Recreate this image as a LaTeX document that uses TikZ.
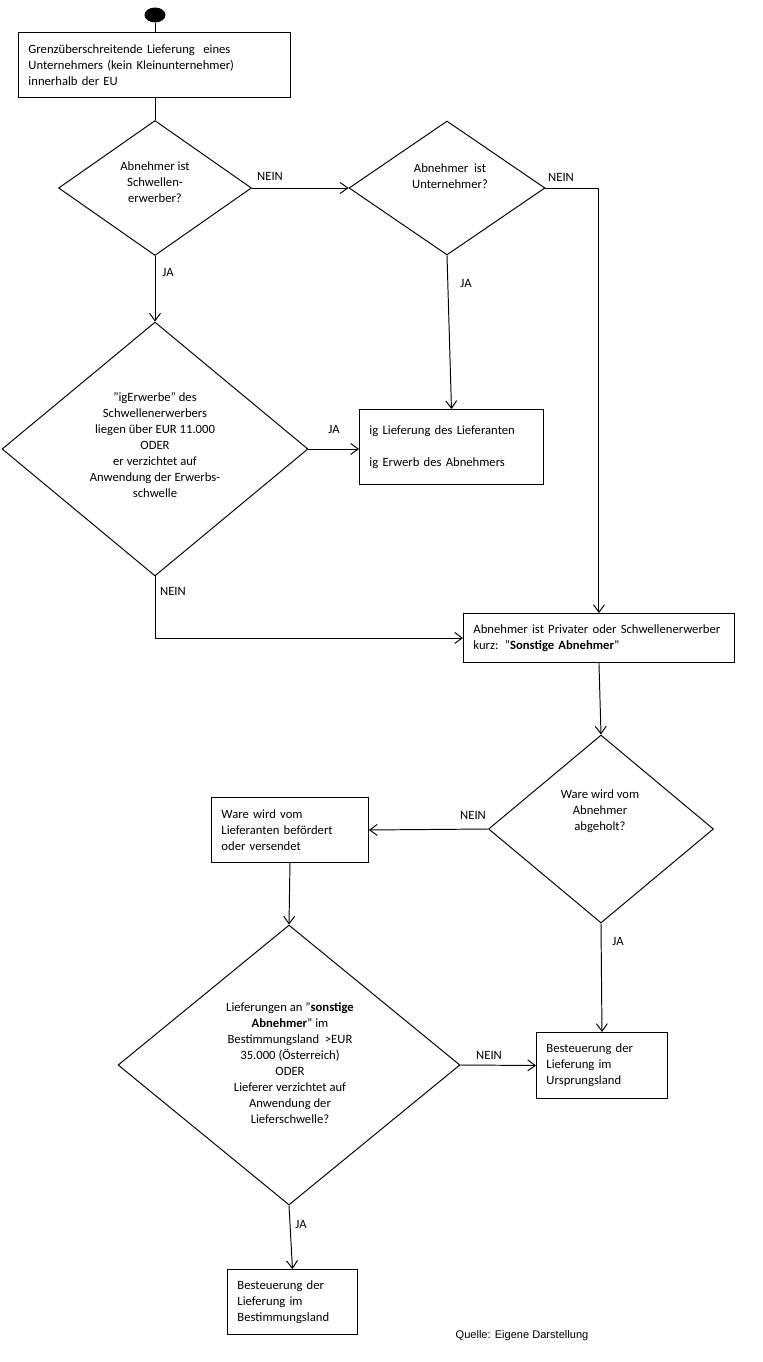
\documentclass[tikz,border=0pt]{standalone}
\usepackage{fontspec}
\setmainfont{Carlito}
\newfontfamily\quellefont{Liberation Sans}
\usetikzlibrary{shapes.geometric,arrows.meta}

\newcommand{\gq}{\char34\relax}

\tikzset{
  txt/.style={font=\fontsize{7.2}{9.1}\selectfont},
  box/.style={draw, txt, align=left, anchor=north west, inner xsep=0.2cm, inner ysep=0pt},
  raute/.style={draw, diamond, inner sep=0pt},
  rautetext/.style={txt, align=center, inner sep=0pt},
  lbl/.style={txt, inner sep=0pt},
}

\begin{document}
\begin{tikzpicture}[x=0.02cm, y=-0.02cm, line width=0.55pt,
  >={Straight Barb[length=1.5mm,width=2.2mm]}]
  \useasboundingbox (0,0) rectangle (763,1362);

  % Start
  \node[ellipse, fill=black, minimum width=0.42cm, minimum height=0.3cm, inner sep=0pt] (start) at (155,15) {};

  % Boxes
  \node[box, text width=5.04cm, minimum height=1.3cm] (b1) at (18,32)
    {Grenzüberschreitende Lieferung~ eines\\Unternehmers (kein Kleinunternehmer)\\innerhalb der EU};
  \node[box, text width=3.28cm, minimum height=1.5cm] (b2) at (359,409)
    {ig Lieferung des Lieferanten\\\mbox{}\\ig Erwerb des Abnehmers};
  \node[box, text width=5.02cm, minimum height=0.98cm] (b3) at (463,613)
    {Abnehmer ist Privater oder Schwellenerwerber\\kurz: \gq\textbf{Sonstige Abnehmer}\gq};
  \node[box, text width=2.74cm, minimum height=1.3cm] (b4) at (211,797)
    {Ware wird vom\\Lieferanten befördert\\oder versendet};
  \node[box, text width=2.22cm, minimum height=1.32cm] (b5) at (536,1032)
    {Besteuerung der\\Lieferung im\\Ursprungsland};
  \node[box, text width=2.2cm, minimum height=1.3cm] (b6) at (227,1269)
    {Besteuerung der\\Lieferung im\\Bestimmungsland};

  % Decisions
  \node[raute, minimum width=3.86cm, minimum height=2.7cm] (d1) at (155,188) {};
  \node[raute, minimum width=3.92cm, minimum height=2.68cm] (d2) at (447,188) {};
  \node[raute, minimum width=6.12cm, minimum height=5.08cm] (d3) at (155,449) {};
  \node[raute, minimum width=4.5cm, minimum height=3.76cm] (d4) at (601,829) {};
  \node[raute, minimum width=6.84cm, minimum height=5.6cm] (d5) at (289,1065) {};

  % Texts in the decisions
  \node[rautetext] (d1t) at (155,182) {Abnehmer ist\\Schwellen-\\erwerber?};
  \node[rautetext] (d2t) at (450,176) {Abnehmer~ ist\\Unternehmer?};
  \node[rautetext] (d3t) at (155,445) {\gq igErwerbe\gq\ des\\Schwellenerwerbers\\liegen über EUR 11.000\\ODER\\er verzichtet auf\\Anwendung der Erwerbs-\\schwelle};
  \node[rautetext] (d4t) at (600,811) {Ware wird vom\\Abnehmer\\abgeholt?};
  \node[rautetext] (d5t) at (290,1063) {Lieferungen an \gq\textbf{sonstige}\\\textbf{Abnehmer}\gq\ im\\Bestimmungsland~ >EUR\\35.000 (Österreich)\\ODER\\Lieferer verzichtet auf\\Anwendung der\\Lieferschwelle?};

  % Connectors
  \draw (start.south) -- (start.south |- b1.north);
  \draw (d1.north |- b1.south) -- (d1.north);
  \draw[->] (d1.east) -- (d2.west);
  \draw[->] (d2.east) -| (b3.north);
  \draw[->] (d2.south) -- (b2.north);
  \draw[->] (d1.south) -- (d3.north);
  \draw[->] (d3.east) -- (d3.east -| b2.west);
  \draw[->] (d3.south) |- (b3.west);
  \draw[->] (b3.south) -- (d4.north);
  \draw[->] (d4.west) -- (b4.east);
  \draw[->] (b4.south) -- (d5.north);
  \draw[->] (d5.east) -- (b5.west);
  \draw[->] (d4.south) -- (b5.north);
  \draw[->] (d5.south) -- (b6.north);

  % Labels JA / NEIN
  \node[lbl] (n1) at (270,176) {NEIN};
  \node[lbl] (n2) at (561,177) {NEIN};
  \node[lbl] (j1) at (168,272) {JA};
  \node[lbl] (j2) at (466,283) {JA};
  \node[lbl] (j3) at (334,429) {JA};
  \node[lbl] (n3) at (173,591) {NEIN};
  \node[lbl] (n4) at (473,815) {NEIN};
  \node[lbl] (j4) at (618,941) {JA};
  \node[lbl] (n5) at (489,1055) {NEIN};
  \node[lbl] (j5) at (301,1224) {JA};

  % Source
  \node[font=\quellefont\fontsize{6.3}{7.5}\selectfont, inner sep=0pt] (quelle) at (522,1336) {Quelle: Eigene Darstellung};
\end{tikzpicture}
\end{document}
